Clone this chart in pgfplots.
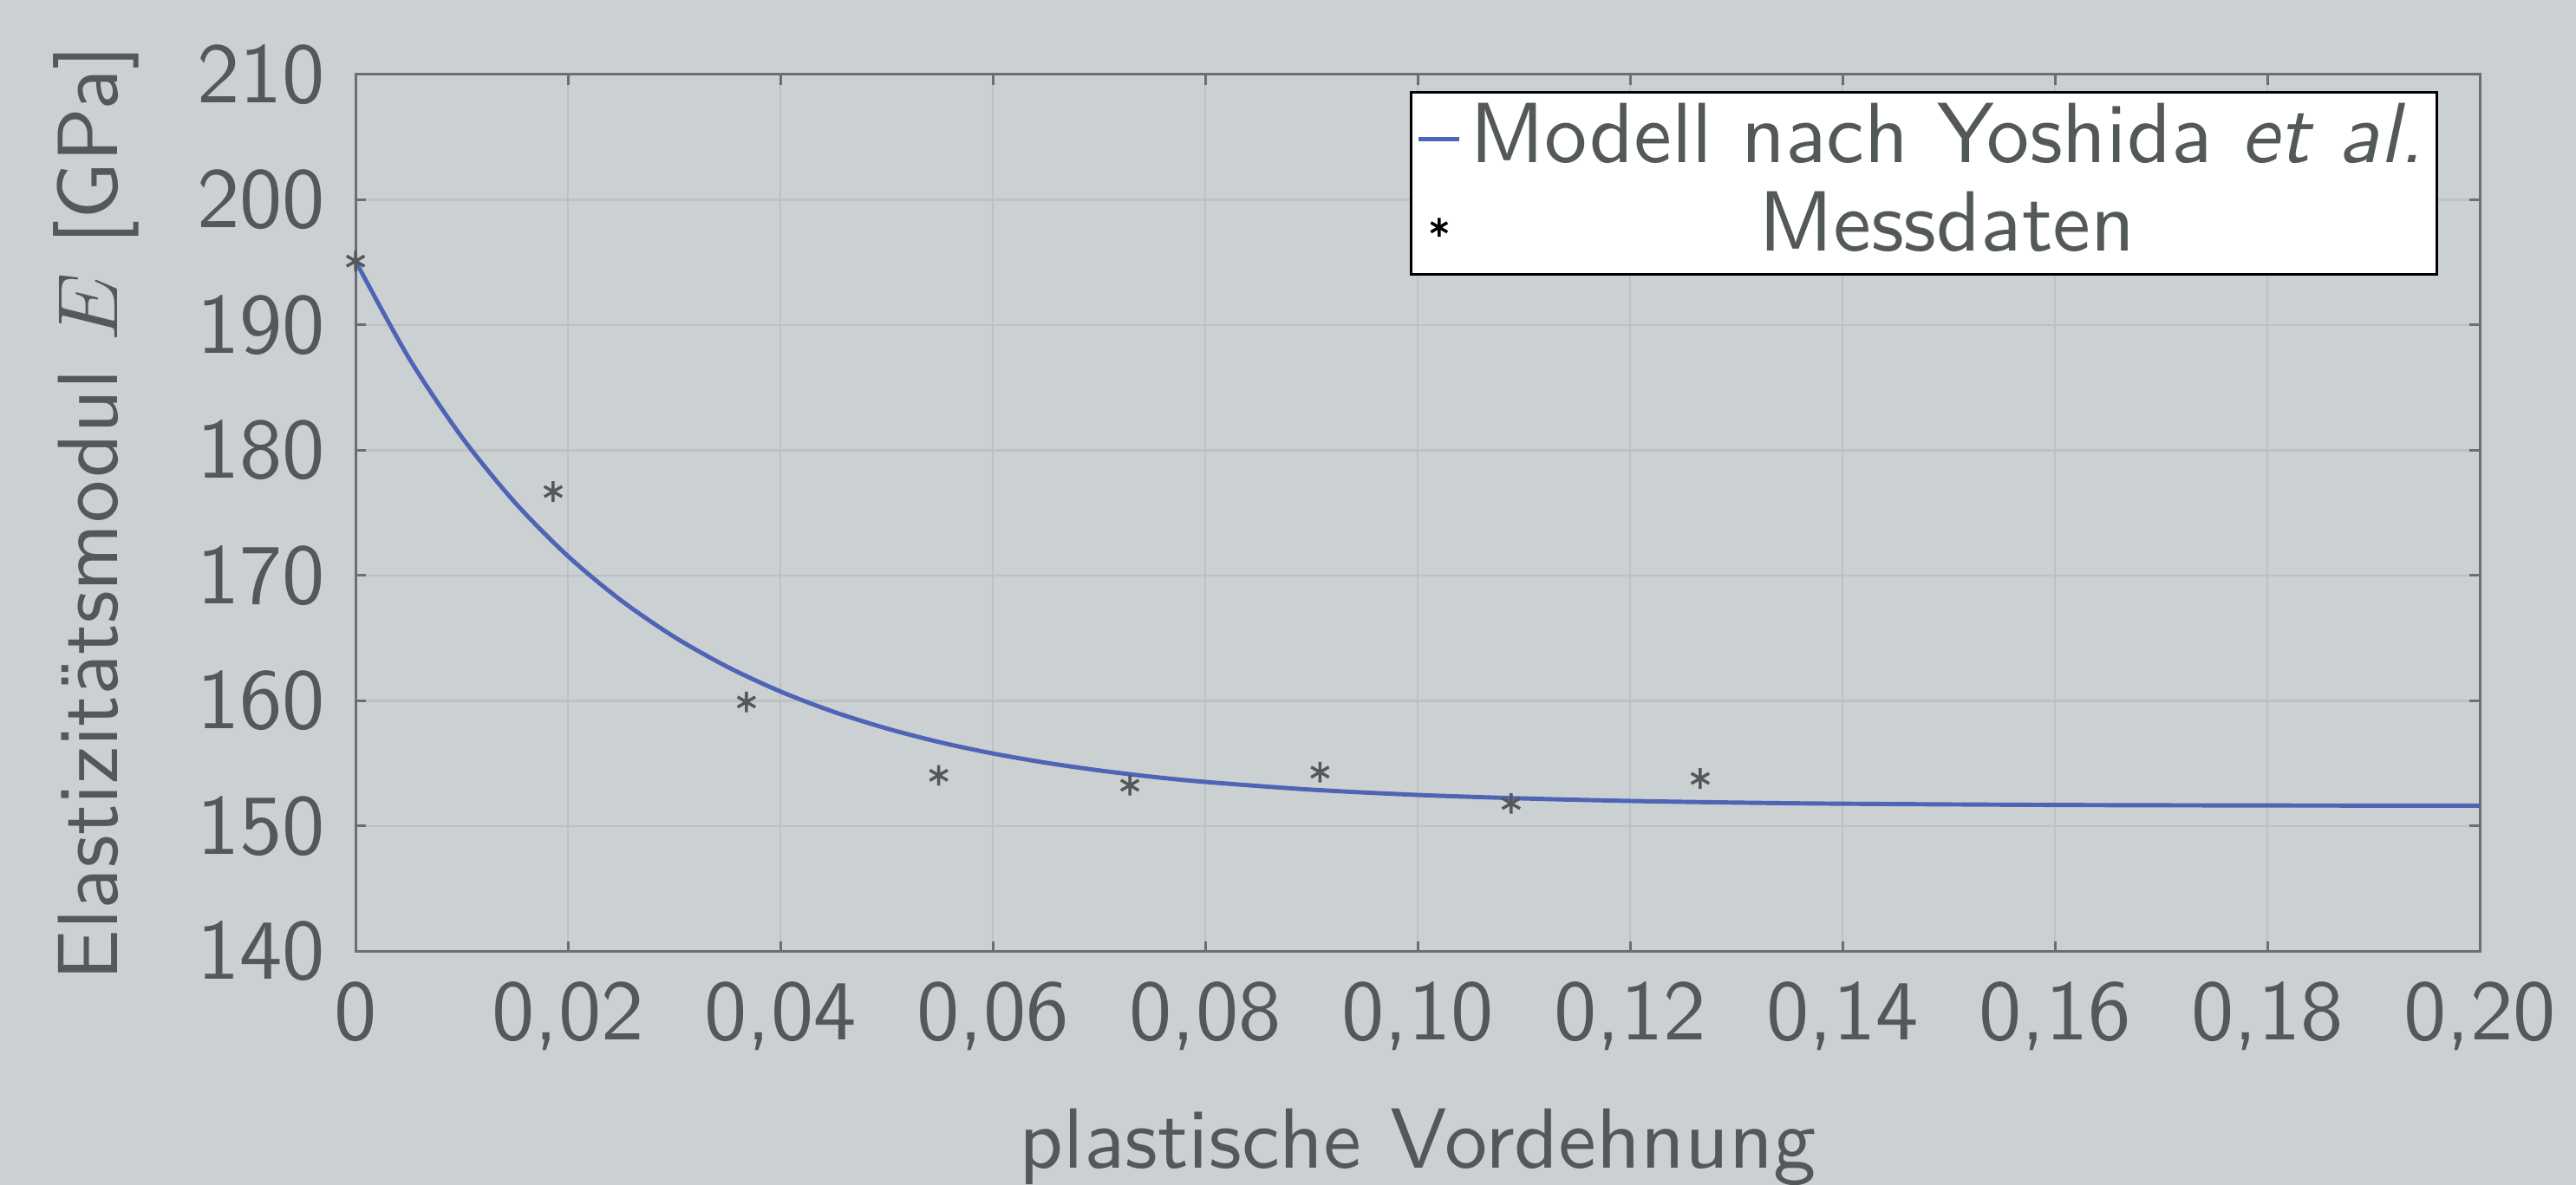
\documentclass[border=0pt]{standalone}
\usepackage{pgfplots}
\pgfplotsset{compat=1.18}
\usetikzlibrary{backgrounds}
\renewcommand{\familydefault}{\sfdefault}
\definecolor{bgc}{RGB}{203,208,211}
\definecolor{textc}{RGB}{83,88,89}
\definecolor{axisc}{RGB}{108,111,113}
\definecolor{gridc}{RGB}{189,193,196}
\definecolor{bluec}{RGB}{79,100,180}
\begin{document}
\begin{tikzpicture}
\begin{axis}[
  name=ax, scale only axis, width=248.5pt, height=102.6pt,
  xmin=0, xmax=0.2, ymin=140, ymax=210,
  xtick={0,0.02,0.04,0.06,0.08,0.1,0.12,0.14,0.16,0.18,0.2},
  xticklabels={0,{0,02},{0,04},{0,06},{0,08},{0,10},{0,12},{0,14},{0,16},{0,18},{0,20}},
  ytick={140,150,160,170,180,190,200,210},
  grid=major, major grid style={color=gridc, line width=0.25pt},
  axis line style={color=axisc, line width=0.3pt},
  tick style={color=axisc, line width=0.3pt}, major tick length=1.2pt, tick align=inside,
  tick label style={color=textc},
  label style={color=textc},
  /pgf/number format/assume math mode=true,
  xlabel={plastische Vordehnung},
  ylabel={Elastizitätsmodul $E$ [GPa]},
  legend cell align=center,
  legend style={at={(0.9804,0.9812)}, anchor=north east, fill=white, draw=black, line width=0.3pt,
    text=textc, inner xsep=0.6pt, inner ysep=0.3pt, nodes={inner sep=0.95pt}},
]
\addplot[color=bluec, line width=0.5pt, smooth, tension=0.5,
  legend image code/.code={\draw[color=bluec, line width=0.5pt] (-2.4pt,0pt) -- (2.4pt,0pt);}]
  coordinates {
  (0,195.1) (0.005,187.39) (0.01,181.05) (0.015,175.83) (0.02,171.54)
  (0.025,168.01) (0.03,165.10) (0.035,162.71) (0.04,160.74) (0.045,159.12)
  (0.05,157.79) (0.055,156.69) (0.06,155.79) (0.065,155.05) (0.07,154.44)
  (0.075,153.93) (0.08,153.52) (0.09,152.90) (0.1,152.48) (0.11,152.20)
  (0.12,152.00) (0.13,151.87) (0.14,151.78) (0.16,151.68) (0.18,151.64) (0.2,151.62)
  };
\addlegendentry{Modell nach Yoshida \textit{et al.}}
\addplot[only marks, mark=asterisk, mark size=1.2pt, color=textc, line width=0.35pt,
  legend image code/.code={\draw[black, line width=0.35pt] plot[mark=asterisk, mark size=1.1pt] coordinates {(0pt,0pt)};}]
  coordinates {
  (0,195.1) (0.0186,176.7) (0.0368,159.9) (0.0549,154.05) (0.0729,153.25)
  (0.0908,154.3) (0.1088,151.8) (0.1266,153.8)
  };
\addlegendentry{Messdaten}
\end{axis}
\pgfresetboundingbox
\begin{scope}[on background layer]
\fill[bgc] ([shift={(-41.6pt,-27.3pt)}]ax.south west) rectangle ([shift={(11.26pt,8.72pt)}]ax.north east);
\end{scope}
\end{tikzpicture}
\end{document}
